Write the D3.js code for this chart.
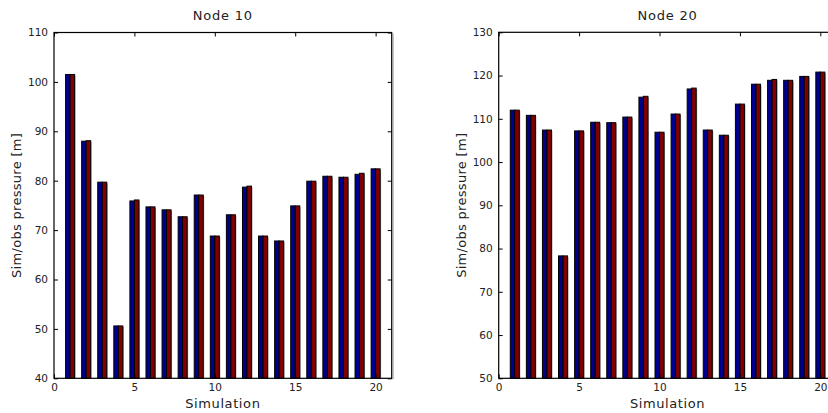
<!DOCTYPE html>
<html>
<head>
<meta charset="utf-8">
<script src="https://cdn.jsdelivr.net/npm/d3@7"></script>
<style>
  html, body { margin: 0; padding: 0; background: #fff; }
  svg { display: block; }
  text { font-family: "DejaVu Sans", sans-serif; fill: #222; }
</style>
</head>
<body>
<svg id="chart" width="828" height="413"></svg>
<script>
// ---- data ----
const simulations = [1,2,3,4,5,6,7,8,9,10,11,12,13,14,15,16,17,18,19,20];
const node10Sim = [101.5, 88.0, 79.7, 50.6, 75.9, 74.7, 74.1, 72.7, 77.1, 68.8, 73.1, 78.7, 68.8, 67.8, 74.9, 79.9, 80.9, 80.7, 81.3, 82.4];
const node10Obs = [101.5, 88.1, 79.7, 50.6, 76.1, 74.7, 74.1, 72.7, 77.1, 68.8, 73.1, 78.9, 68.8, 67.8, 74.9, 79.9, 80.9, 80.7, 81.5, 82.4];
const node20Sim = [112.0, 110.8, 107.4, 78.3, 107.2, 109.2, 109.1, 110.4, 115.0, 106.9, 111.1, 116.9, 107.4, 106.2, 113.4, 118.0, 118.9, 118.9, 119.8, 120.8];
const node20Obs = [112.0, 110.8, 107.4, 78.3, 107.2, 109.2, 109.1, 110.4, 115.2, 106.9, 111.1, 117.1, 107.4, 106.2, 113.4, 118.0, 119.1, 118.9, 119.8, 120.8];
const xTicks = [0, 5, 10, 15, 20];
const yTicks10 = [40, 50, 60, 70, 80, 90, 100, 110];
const yTicks20 = [50, 60, 70, 80, 90, 100, 110, 120, 130];
const titles = ["Node 10", "Node 20"];
const xLabel = "Simulation";
const yLabel = "Sim/obs pressure [m]";
const colors = ["#00008f", "#800000"];

const svg = d3.select("#chart");

function drawPanel(opts) {
  const { left, right, top, bottom, yDomain, yTicks, sim, obs, title } = opts;
  const x = d3.scaleLinear().domain([0, 21]).range([left, right]);
  const y = d3.scaleLinear().domain(yDomain).range([bottom, top]);
  const g = svg.append("g");
  const bw = 0.28;

  const series = [sim, obs];
  series.forEach((vals, si) => {
    const data = simulations.map((s, i) => ({ s, v: vals[i] }));
    const x0 = d => si === 0 ? d.s - bw : d.s;
    // gray shadow
    g.append("g").selectAll("rect").data(data).join("rect")
      .attr("x", d => x(x0(d)) + 1)
      .attr("y", d => y(d.v) + 1)
      .attr("width", d => x(x0(d) + bw) - x(x0(d)))
      .attr("height", d => y(yDomain[0]) - y(d.v) - 1)
      .attr("fill", "#9a9a9a");
    g.append("g").selectAll("rect").data(data).join("rect")
      .attr("x", d => x(x0(d)))
      .attr("y", d => y(d.v))
      .attr("width", d => x(x0(d) + bw) - x(x0(d)))
      .attr("height", d => y(yDomain[0]) - y(d.v))
      .attr("fill", colors[si])
      .attr("stroke", "#000")
      .attr("stroke-width", 1);
  });

  // axes box
  const ax = g.append("g");
  ax.append("line").attr("x1", right + 1.5).attr("x2", right + 1.5).attr("y1", top + 1).attr("y2", bottom + 1)
    .attr("stroke", "#aaa").attr("stroke-width", 1);
  ax.append("rect").attr("x", left).attr("y", top).attr("width", right - left).attr("height", bottom - top)
    .attr("fill", "none").attr("stroke", "#000").attr("stroke-width", 1.2);

  const fmt = d3.format("d");
  const bottomAxis = d3.axisBottom(x).tickValues(xTicks).tickFormat(fmt).tickSize(-4).tickPadding(5);
  const topAxis = d3.axisTop(x).tickValues(xTicks).tickFormat("").tickSize(-4);
  const leftAxis = d3.axisLeft(y).tickValues(yTicks).tickFormat(fmt).tickSize(-4).tickPadding(6);
  const rightAxis = d3.axisRight(y).tickValues(yTicks).tickFormat("").tickSize(-4);

  const styleAxis = sel => {
    sel.select(".domain").remove();
    sel.selectAll(".tick line").attr("stroke", "#000");
    sel.selectAll(".tick text").attr("font-family", "DejaVu Sans, sans-serif").attr("font-size", 10.5).attr("fill", "#222");
  };
  ax.append("g").attr("transform", `translate(0,${bottom})`).call(bottomAxis).call(styleAxis);
  ax.append("g").attr("transform", `translate(0,${top})`).call(topAxis).call(styleAxis);
  ax.append("g").attr("transform", `translate(${left},0)`).call(leftAxis).call(styleAxis);
  ax.append("g").attr("transform", `translate(${right},0)`).call(rightAxis).call(styleAxis);

  const cx = (left + right) / 2;
  g.append("text").attr("x", cx).attr("y", 20).attr("text-anchor", "middle")
    .attr("font-size", 13).attr("letter-spacing", 0.8).text(title);
  g.append("text").attr("x", cx).attr("y", 408).attr("text-anchor", "middle")
    .attr("font-size", 13).attr("letter-spacing", 0.6).text(xLabel);
  g.append("text").attr("transform", `translate(${opts.yLabelX},${(top + bottom) / 2}) rotate(-90)`)
    .attr("text-anchor", "middle").attr("font-size", 13).attr("letter-spacing", 0.3).text(yLabel);
}

drawPanel({ left: 54, right: 391.7, top: 32.5, bottom: 378.3, yDomain: [40, 110], yTicks: yTicks10,
  sim: node10Sim, obs: node10Obs, title: titles[0], yLabelX: 21 });
drawPanel({ left: 498.7, right: 836.4, top: 32.3, bottom: 378.3, yDomain: [50, 130], yTicks: yTicks20,
  sim: node20Sim, obs: node20Obs, title: titles[1], yLabelX: 466 });
</script>
</body>
</html>
